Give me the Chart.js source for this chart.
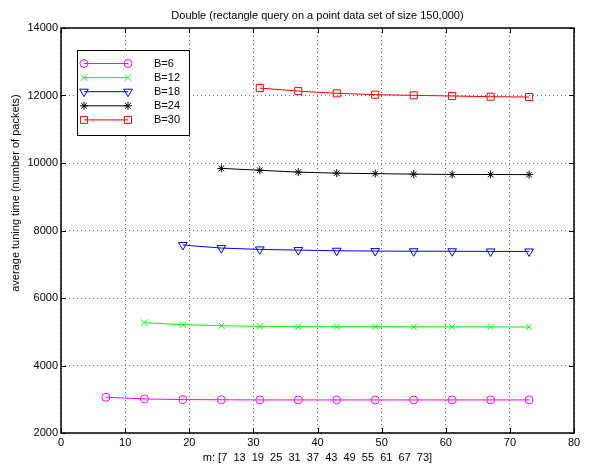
<!DOCTYPE html>
<html>
<head>
<meta charset="utf-8">
<script src="https://cdn.jsdelivr.net/npm/chart.js"></script>
<style>
    body { margin: 0; background: #fff; }
    canvas { display: block; }
</style>
</head>
<body>
<canvas id="grafico" width="589" height="466"></canvas>
<script>
// m values along the x axis; each B series starts further right
const mValores = [7, 13, 19, 25, 31, 37, 43, 49, 55, 61, 67, 73];
const legendas = ['B=6', 'B=12', 'B=18', 'B=24', 'B=30'];
const b6 = [3060, 3010, 2990, 2985, 2980, 2980, 2980, 2980, 2980, 2980, 2980, 2980];
const b12 = [5270, 5210, 5180, 5160, 5150, 5150, 5150, 5145, 5145, 5145, 5140];
const b18 = [7570, 7480, 7440, 7420, 7400, 7390, 7385, 7385, 7380, 7380];
const b24 = [9840, 9785, 9730, 9700, 9685, 9670, 9660, 9660, 9655];
const b30 = [12220, 12130, 12065, 12025, 12005, 11985, 11965, 11955];
const yTicks = [2000, 4000, 6000, 8000, 10000, 12000, 14000];
const xTicks = [0, 10, 20, 30, 40, 50, 60, 70, 80];

const fonte = '"Liberation Sans", Arial, Helvetica, sans-serif';

function pontos(valores) {
    const inicio = mValores.length - valores.length;
    return valores.map((v, i) => ({ x: mValores[inicio + i], y: v }));
}

const estilos = [
    { cor: '#ff00ff', marca: 'circle', raio: 4, rot: 0 },
    { cor: '#00ff00', marca: 'crossRot', raio: 4.5, rot: 0 },
    { cor: '#0000ff', marca: 'triangle', raio: 5, rot: 180 },
    { cor: '#000000', marca: 'star', raio: 4, rot: 0 },
    { cor: '#ff0000', marca: 'rect', raio: 5, rot: 0 }
];

const series = [b6, b12, b18, b24, b30];

const datasets = series.map((valores, i) => ({
    label: legendas[i],
    data: pontos(valores),
    borderColor: estilos[i].cor,
    borderWidth: 1,
    pointStyle: estilos[i].marca,
    pointRotation: estilos[i].rot,
    pointRadius: estilos[i].raio,
    pointBorderWidth: 1,
    pointBorderColor: estilos[i].cor,
    pointBackgroundColor: 'rgba(0,0,0,0)',
    tension: 0
}));

// box around the axes, ticks pointing inward, y label and the legend box
const moldura = {
    id: 'moldura',
    afterDatasetsDraw(chart) {
        const ctx = chart.ctx;
        const area = chart.chartArea;
        const sx = chart.scales.x;
        const sy = chart.scales.y;

        ctx.save();
        ctx.strokeStyle = '#000';
        ctx.lineWidth = 1;
        ctx.beginPath();
        xTicks.forEach(v => {
            const px = Math.round(sx.getPixelForValue(v)) + 0.5;
            ctx.moveTo(px, area.bottom);
            ctx.lineTo(px, area.bottom - 5);
            ctx.moveTo(px, area.top);
            ctx.lineTo(px, area.top + 5);
        });
        yTicks.forEach(v => {
            const py = Math.round(sy.getPixelForValue(v)) + 0.5;
            ctx.moveTo(area.left, py);
            ctx.lineTo(area.left + 5, py);
            ctx.moveTo(area.right, py);
            ctx.lineTo(area.right - 5, py);
        });
        ctx.stroke();

        ctx.lineWidth = 1.5;
        ctx.strokeRect(area.left, area.top, area.right - area.left, area.bottom - area.top);

        // y axis label
        ctx.fillStyle = '#000';
        ctx.font = '11px ' + fonte;
        ctx.textAlign = 'center';
        ctx.textBaseline = 'middle';
        ctx.translate(16, 193);
        ctx.rotate(-Math.PI / 2);
        ctx.fillText('average tuning time (number of packets)', 0, 0);
        ctx.restore();

        // legend
        ctx.save();
        const lx = 77, ly = 50, lw = 112, lh = 85;
        ctx.fillStyle = '#fff';
        ctx.fillRect(lx, ly, lw, lh);
        ctx.strokeStyle = '#000';
        ctx.lineWidth = 1;
        ctx.strokeRect(lx + 0.5, ly + 0.5, lw, lh);
        ctx.font = '11px ' + fonte;
        ctx.textAlign = 'left';
        ctx.textBaseline = 'middle';
        chart.data.datasets.forEach((ds, i) => {
            const y = 63.5 + i * 14.1;
            ctx.strokeStyle = ds.borderColor;
            ctx.beginPath();
            ctx.moveTo(84, y);
            ctx.lineTo(128, y);
            ctx.stroke();
            ctx.fillStyle = 'rgba(0,0,0,0)';
            [84, 128].forEach(px => {
                Chart.helpers.drawPoint(ctx, {
                    pointStyle: ds.pointStyle,
                    rotation: ds.pointRotation,
                    radius: ds.pointRadius,
                    borderWidth: 1
                }, px, y);
            });
            ctx.fillStyle = '#000';
            ctx.fillText(ds.label, 154, y + 0.5);
        });
        ctx.restore();
    }
};

const chart = new Chart(document.getElementById('grafico').getContext('2d'), {
    type: 'line',
    data: { datasets: datasets },
    options: {
        responsive: false,
        animation: false,
        layout: { padding: { left: 0, right: 15, top: 0, bottom: 0 } },
        plugins: {
            legend: { display: false },
            tooltip: { enabled: false },
            title: {
                display: true,
                fullSize: false,
                text: 'Double (rectangle query on a point data set of size 150,000)',
                color: '#000',
                font: { family: fonte, size: 11, weight: 'normal', lineHeight: '13px' },
                padding: { top: 9, bottom: 6 }
            }
        },
        scales: {
            x: {
                type: 'linear',
                min: 0,
                max: 80,
                ticks: {
                    stepSize: 10,
                    padding: 3,
                    color: '#000',
                    font: { family: fonte, size: 11 }
                },
                grid: { color: 'rgba(0,0,0,0.55)', lineWidth: 1, drawTicks: false },
                border: { display: false, dash: [1, 3] },
                title: {
                    display: true,
                    text: 'm: [7  13  19  25  31  37  43  49  55  61  67  73]',
                    color: '#000',
                    font: { family: fonte, size: 11, lineHeight: '13px' },
                    padding: { top: 0, bottom: 2 }
                },
                afterFit(scale) { scale.height = 33; }
            },
            y: {
                type: 'linear',
                min: 2000,
                max: 14000,
                ticks: {
                    stepSize: 2000,
                    padding: 3,
                    color: '#000',
                    font: { family: fonte, size: 11 },
                    callback: v => String(v)
                },
                grid: { color: 'rgba(0,0,0,0.55)', lineWidth: 1, drawTicks: false },
                border: { display: false, dash: [1, 3] },
                afterFit(scale) { scale.width = 61; }
            }
        }
    },
    plugins: [moldura]
});
</script>
</body>
</html>
